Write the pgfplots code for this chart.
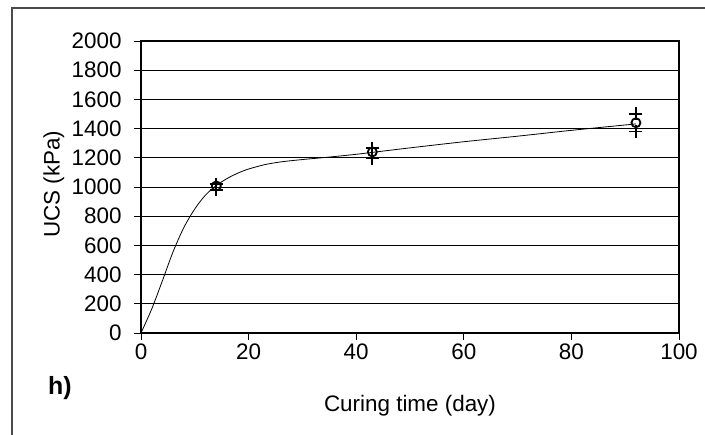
\documentclass[border=0pt]{standalone}
\usepackage{pgfplots}
\pgfplotsset{compat=1.18}
\usepackage{fontspec}
\setmainfont{Liberation Sans}
\begin{document}
\begin{tikzpicture}[x=1bp,y=1bp]
\useasboundingbox (0,0) rectangle (705,435);
% chart area border
\draw[line width=1.3bp, black!70] (12,-5) -- (12,427) -- (715,427);
\begin{axis}[
  at={(141bp,102bp)}, anchor=south west,
  scale only axis, width=538bp, height=292bp,
  xmin=0, xmax=100, ymin=0, ymax=2000,
  xtick={0,20,...,100}, ytick={0,200,...,2000},
  tick align=outside, major tick length=7bp,
  tick style={black, line width=0.9bp},
  xtick pos=bottom, ytick pos=left,
  ymajorgrids, grid style={black, line width=0.9bp},
  axis line style={black, line width=1.6bp},
  ticklabel style={font=\fontsize{22.5}{26}\selectfont},
  yticklabel style={xshift=-9bp},
  /pgf/number format/assume math mode=true,
  /pgf/number format/1000 sep={},
  xlabel={Curing time (day)}, ylabel={UCS (kPa)},
  label style={font=\fontsize{22.5}{26}\selectfont},
  xlabel style={at={(axis description cs:0.5,-0.2705)}, anchor=base},
  ylabel style={at={(axis description cs:-0.162,0.51)}, anchor=center},
  clip=false,
]
% fitted strength-gain curve
\addplot[black, line width=0.8bp, smooth, tension=0.5] coordinates {
  (0,0) (2,165) (4,360) (6,560) (8,725) (10,850) (12,945) (14,1010)
  (16,1058) (18,1095) (20,1123) (23,1153) (26,1172) (30,1188) (35,1205)
  (40,1224) (45,1246) (50,1268) (60,1310) (70,1348) (80,1388) (92,1432)
};
% individual specimens
\addplot[only marks, mark=+, mark size=6.5bp, mark options={line width=1.8bp, black}]
  coordinates {(14,1020) (14,980) (43,1267) (43,1195) (92,1500) (92,1380)};
% mean values
\addplot[only marks, mark=o, mark size=4.5bp, mark options={line width=1.8bp, black}]
  coordinates {(14,1007) (43,1240) (92,1440)};
\end{axis}
\node[font=\fontsize{25}{30}\selectfont\bfseries] at (60,47) {h)};
\end{tikzpicture}
\end{document}
